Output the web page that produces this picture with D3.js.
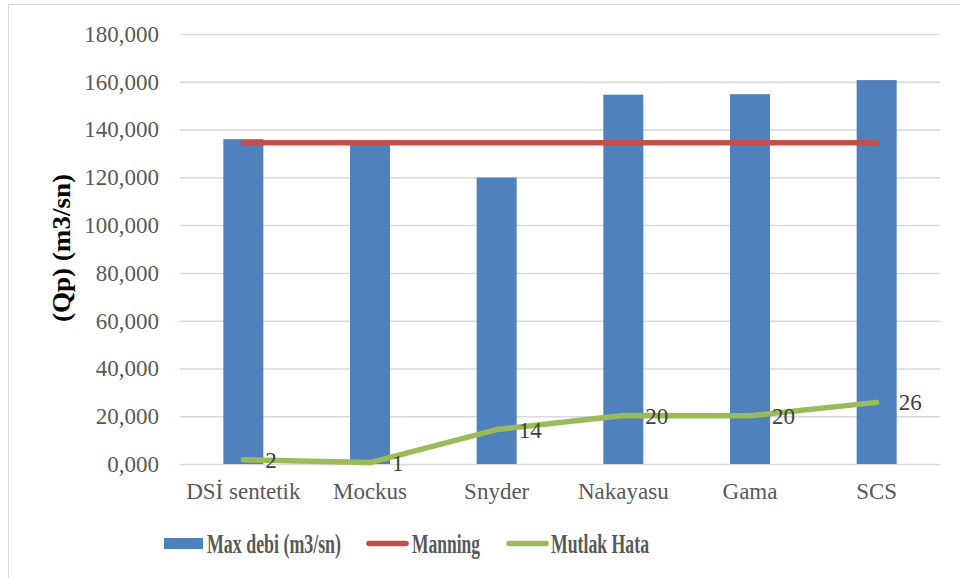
<!DOCTYPE html>
<html><head><meta charset="utf-8">
<script src="https://cdn.jsdelivr.net/npm/d3@7"></script>
</head><body style="margin:0"><svg id="c" width="960" height="578"></svg>
<script>
const categories = ["DSİ sentetik","Mockus","Snyder","Nakayasu","Gama","SCS"];
const maxDebi = [136.0, 134.0, 119.9, 154.6, 154.8, 160.7];
const manning = [134.5, 134.5, 134.5, 134.5, 134.5, 134.5];
const mutlakHata = [1.8, 0.6, 14.4, 20.3, 20.2, 25.8];
const yTicks = [0,20,40,60,80,100,120,140,160,180];
const yTitle = "(Qp) (m3/sn)";
const legendLabels = ["Max debi (m3/sn)","Manning","Mutlak Hata"];

const svg = d3.select("#c");
const L=180,R=940,T=34,B=464;
svg.append("rect").attr("x",8.5).attr("y",4.5).attr("width",960).attr("height",580)
  .attr("fill","#fff").attr("stroke","#d9d9d9").attr("stroke-width",1);

const x = d3.scaleBand().domain(categories).range([L,R]).paddingInner(0.684).paddingOuter(0.342);
const y = d3.scaleLinear().domain([0,180]).range([B,T]);
const fmt = v => d3.format(".3f")(v).replace(".", ",");

const ya = svg.append("g").attr("transform",`translate(${L},0)`)
  .call(d3.axisLeft(y).tickValues(yTicks).tickSize(-(R-L)).tickPadding(21).tickFormat(fmt));
ya.select(".domain").remove();
ya.selectAll(".tick line").attr("stroke","#d9d9d9").attr("stroke-width",1.5);
ya.selectAll(".tick text").attr("fill","#595959");

svg.append("g").selectAll("rect").data(categories).join("rect")
  .attr("x",d=>x(d)).attr("width",x.bandwidth())
  .attr("y",(d,i)=>y(maxDebi[i])).attr("height",(d,i)=>B-y(maxDebi[i]))
  .attr("fill","#4f81bd");

const cx = d => x(d)+x.bandwidth()/2;
svg.append("path").datum(categories)
  .attr("d",d3.line().x(d=>cx(d)).y((d,i)=>y(manning[i])))
  .attr("fill","none").attr("stroke","#c0504d").attr("stroke-width",5.5).attr("stroke-linecap","round");
svg.append("path").datum(categories)
  .attr("d",d3.line().x(d=>cx(d)).y((d,i)=>y(mutlakHata[i])))
  .attr("fill","none").attr("stroke","#9bbb59").attr("stroke-width",5.5).attr("stroke-linecap","round").attr("stroke-linejoin","round");
svg.append("g").selectAll("text").data(categories).join("text")
  .attr("x",d=>cx(d)+22).attr("y",(d,i)=>y(mutlakHata[i])+8)
  .attr("fill","#404040")
  .text((d,i)=>d3.format(".0f")(mutlakHata[i]));

const xa = svg.append("g").attr("transform",`translate(0,${B})`)
  .call(d3.axisBottom(x).tickSize(0).tickPadding(19));
xa.select(".domain").remove();
xa.selectAll(".tick text").attr("fill","#595959");

svg.selectAll("text").attr("font-family","Liberation Serif").attr("font-size",23);

svg.append("text").attr("transform","translate(70,248) rotate(-90)")
  .attr("text-anchor","middle").attr("fill","#000")
  .attr("font-family","Liberation Serif").attr("font-size",25).attr("font-weight","bold")
  .attr("textLength",148).attr("lengthAdjust","spacingAndGlyphs").text(yTitle);

const lg = svg.append("g");
lg.append("rect").attr("x",164).attr("y",538).attr("width",39).attr("height",11).attr("fill","#4f81bd");
lg.append("line").attr("x1",369).attr("x2",406).attr("y1",543.5).attr("y2",543.5)
  .attr("stroke","#c0504d").attr("stroke-width",5.5).attr("stroke-linecap","round");
lg.append("line").attr("x1",509).attr("x2",546).attr("y1",543.5).attr("y2",543.5)
  .attr("stroke","#9bbb59").attr("stroke-width",5.5).attr("stroke-linecap","round");
const lt = [[207,134],[412,68],[551,98]];
lg.selectAll("text").data(legendLabels).join("text")
  .attr("x",(d,i)=>lt[i][0]).attr("y",553)
  .attr("fill","#595959").attr("font-family","Liberation Serif").attr("font-size",27).attr("font-weight","bold")
  .attr("textLength",(d,i)=>lt[i][1]).attr("lengthAdjust","spacingAndGlyphs").text(d=>d);
</script></body></html>
